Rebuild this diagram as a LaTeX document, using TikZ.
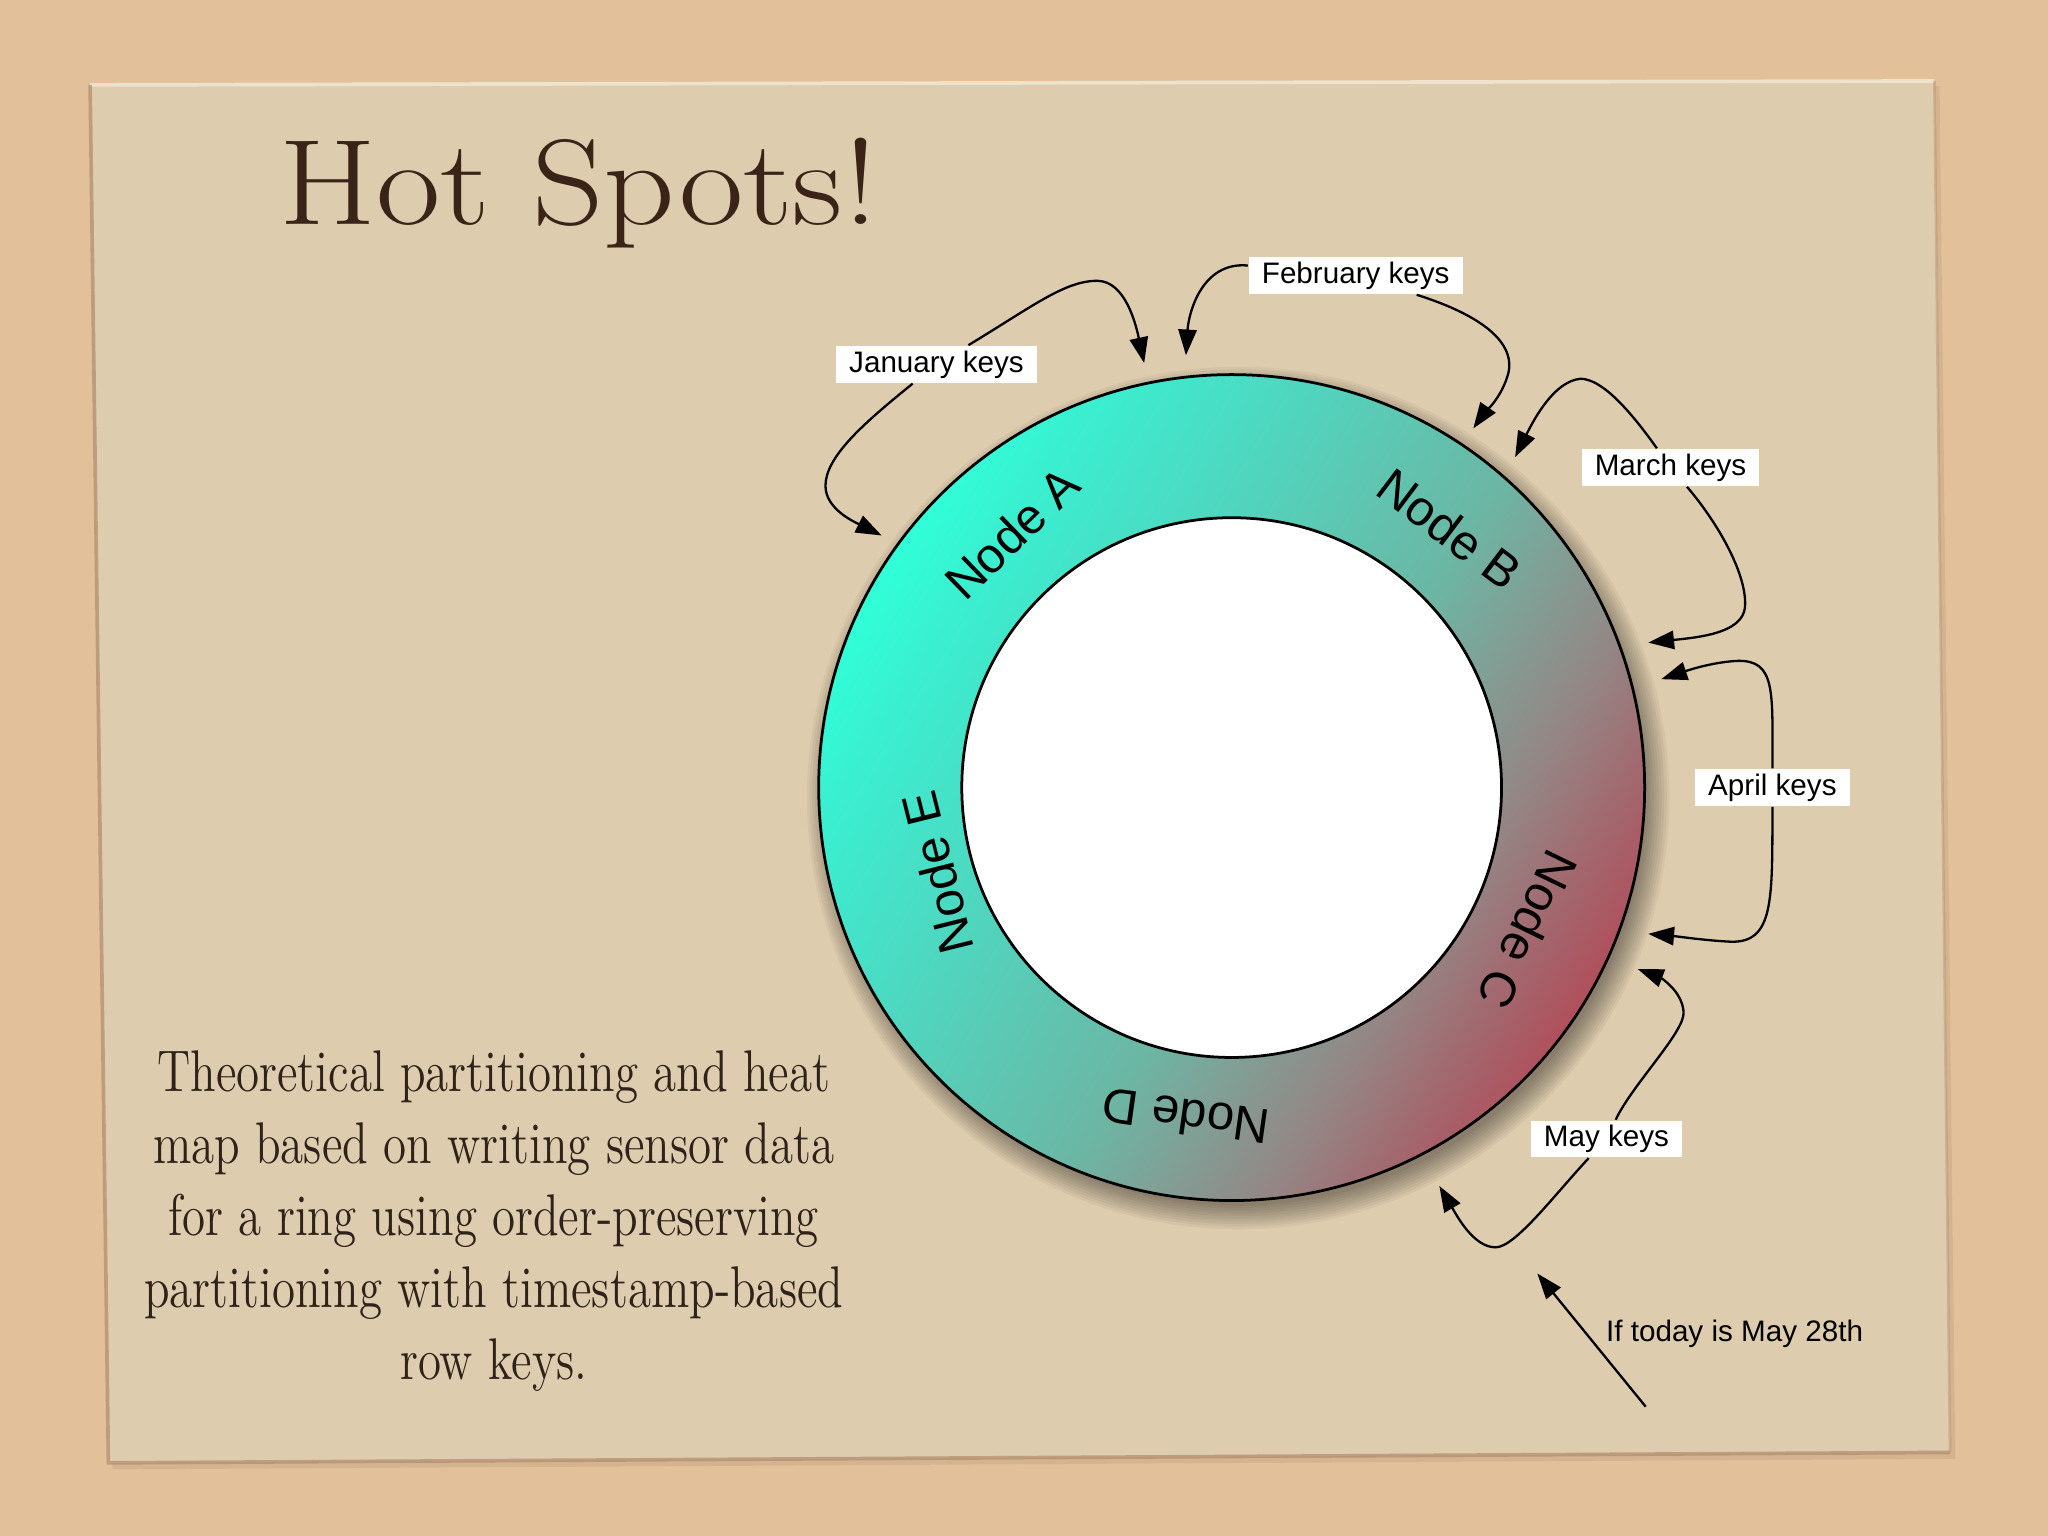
\documentclass[tikz,border=0pt]{standalone}
\usepackage{fontspec}
\newfontfamily\lab{Liberation Sans}
\usetikzlibrary{arrows.meta}
\definecolor{sand}{HTML}{E2C09A}
\definecolor{paper}{HTML}{DECCAE}
\definecolor{paperedge}{HTML}{B08C6C}
\definecolor{paperlight}{HTML}{EDE2CC}
\definecolor{ink}{HTML}{2E221A}
\definecolor{titleink}{HTML}{3A2418}
\definecolor{rc0}{HTML}{30FFD8}
\definecolor{rc1}{HTML}{3AEFD0}
\definecolor{rc2}{HTML}{4ADCC4}
\definecolor{rc3}{HTML}{6CB6A4}
\definecolor{rc4}{HTML}{80A096}
\definecolor{rc5}{HTML}{948685}
\definecolor{rc6}{HTML}{A4656C}
\definecolor{rc7}{HTML}{B0505C}
\pgfdeclarehorizontalshading{ringshade}{100bp}{color(0bp)=(rc0); color(25bp)=(rc0); color(30bp)=(rc1); color(38bp)=(rc2); color(54bp)=(rc3); color(59bp)=(rc4); color(65bp)=(rc5); color(71bp)=(rc6); color(75bp)=(rc7); color(100bp)=(rc7)}
\begin{document}
\begin{tikzpicture}[x=0.01cm, y=-0.01cm,
  keylab/.style={fill=white, inner xsep=0.1cm, inner ysep=0pt, minimum height=0.28cm,
    font=\lab\fontsize{6.45pt}{7.5pt}\selectfont, text=black},
  ringlab/.style={font=\lab\fontsize{10.75pt}{12pt}\selectfont, inner sep=0pt, text=black},
  arr/.style={-{Triangle[length=5.6pt,width=4pt]}, line width=0.5pt, black}]
\useasboundingbox (0,0) rectangle (1568,1176);
\fill[sand] (0,0) rectangle (1568,1176);
% paper sheet
\fill[black, opacity=0.06] (72,69) -- (1485,66) -- (1497,1117) -- (86,1125) -- cycle;
\fill[paper] (69,65) -- (1481,62) -- (1493,1112) -- (83,1120) -- cycle;
\draw[paperlight, line width=0.8pt] (69,65) -- (1481,62);
\draw[paperedge, opacity=0.7, line width=0.8pt] (69,65) -- (83,1120) -- (1493,1112);
\draw[paperedge, opacity=0.4, line width=0.6pt] (1481,62) -- (1493,1112);
% title and description
\node[anchor=base west, font=\fontsize{26.5pt}{30pt}\selectfont, text=titleink, inner sep=0pt,
  xscale=1.15, transform shape] (title) at (213,172) {Hot Spots!};
\node[anchor=north, align=center, font=\fontsize{12.8pt}{15.65pt}\selectfont, text=ink,
  xscale=0.8, transform shape, inner sep=0pt] (desc) at (378,804)
  {Theoretical partitioning and heat\\map based on writing sensor data\\for a ring using order-preserving\\partitioning with timestamp-based\\row keys.};
% ring
\coordinate (ringc) at (943,603);
\foreach \r in {3.12,3.14,...,3.31}
  \fill[black, opacity=0.045] (948,611) circle[radius=\r cm];
\shade[shading=ringshade, shading angle=-32] (ringc) circle[radius=3.16cm];
\draw[line width=0.6pt] (ringc) circle[radius=3.16cm];
\filldraw[fill=white, line width=0.6pt] (ringc) circle[radius=2.065cm];
\node[ringlab, rotate=44] (na) at (775,408) {Node A};
\node[ringlab, rotate=-37] (nb) at (1110,405) {Node B};
\node[ringlab, rotate=-116] (nc) at (1170,712) {Node C};
\node[ringlab, rotate=172] (nd) at (908,855) {Node D};
\node[ringlab, rotate=104] (ne) at (718,668) {Node E};
% key labels
\node[keylab] (jan) at (717,279) {January keys};
\node[keylab] (feb) at (1038,211) {February keys};
\node[keylab] (mar) at (1279,358) {March keys};
\node[keylab] (apr) at (1357,603) {April keys};
\node[keylab] (may) at (1230,872) {May keys};
\node[anchor=west, inner sep=0pt, font=\lab\fontsize{6.45pt}{7.5pt}\selectfont] (today) at (1229,1021) {If today is May 28th};
% arrow tips
\coordinate (janA) at (876,278);
\coordinate (janB) at (675,410);
\coordinate (febA) at (908,272);
\coordinate (febB) at (1128,328);
\coordinate (marA) at (1160,350);
\coordinate (marB) at (1262,492);
\coordinate (aprA) at (1272,520);
\coordinate (aprB) at (1262,715);
\coordinate (mayA) at (1254,742);
\coordinate (mayB) at (1102,908);
\coordinate (tS) at (1260,1077);
\coordinate (tE) at (1177,975);
% arrows
\draw[arr] (jan) .. controls (790,235) and (815,215) .. (840,215) .. controls (862,215) and (870,250) .. (janA);
\draw[arr] (jan) .. controls (660,325) and (632,350) .. (632,372) .. controls (632,390) and (655,400) .. (janB);
\draw[arr] (feb) .. controls (920,200) and (910,240) .. (febA);
\draw[arr] (feb) .. controls (1130,240) and (1160,260) .. (1155,285) .. controls (1150,305) and (1135,318) .. (febB);
\draw[arr] (mar) .. controls (1245,310) and (1225,290) .. (1210,290) .. controls (1190,292) and (1175,320) .. (marA);
\draw[arr] (mar) .. controls (1315,400) and (1338,440) .. (1336,465) .. controls (1334,485) and (1300,488) .. (marB);
\draw[arr] (apr) .. controls (1357,530) and (1360,505) .. (1330,506) .. controls (1310,507) and (1290,514) .. (aprA);
\draw[arr] (apr) .. controls (1357,690) and (1358,722) .. (1325,721) .. controls (1305,720) and (1285,717) .. (aprB);
\draw[arr] (may) .. controls (1250,830) and (1290,790) .. (1289,775) .. controls (1288,758) and (1270,748) .. (mayA);
\draw[arr] (may) .. controls (1190,915) and (1160,955) .. (1145,955) .. controls (1128,955) and (1115,930) .. (mayB);
\draw[arr] (tS) -- (tE);
\end{tikzpicture}
\end{document}
